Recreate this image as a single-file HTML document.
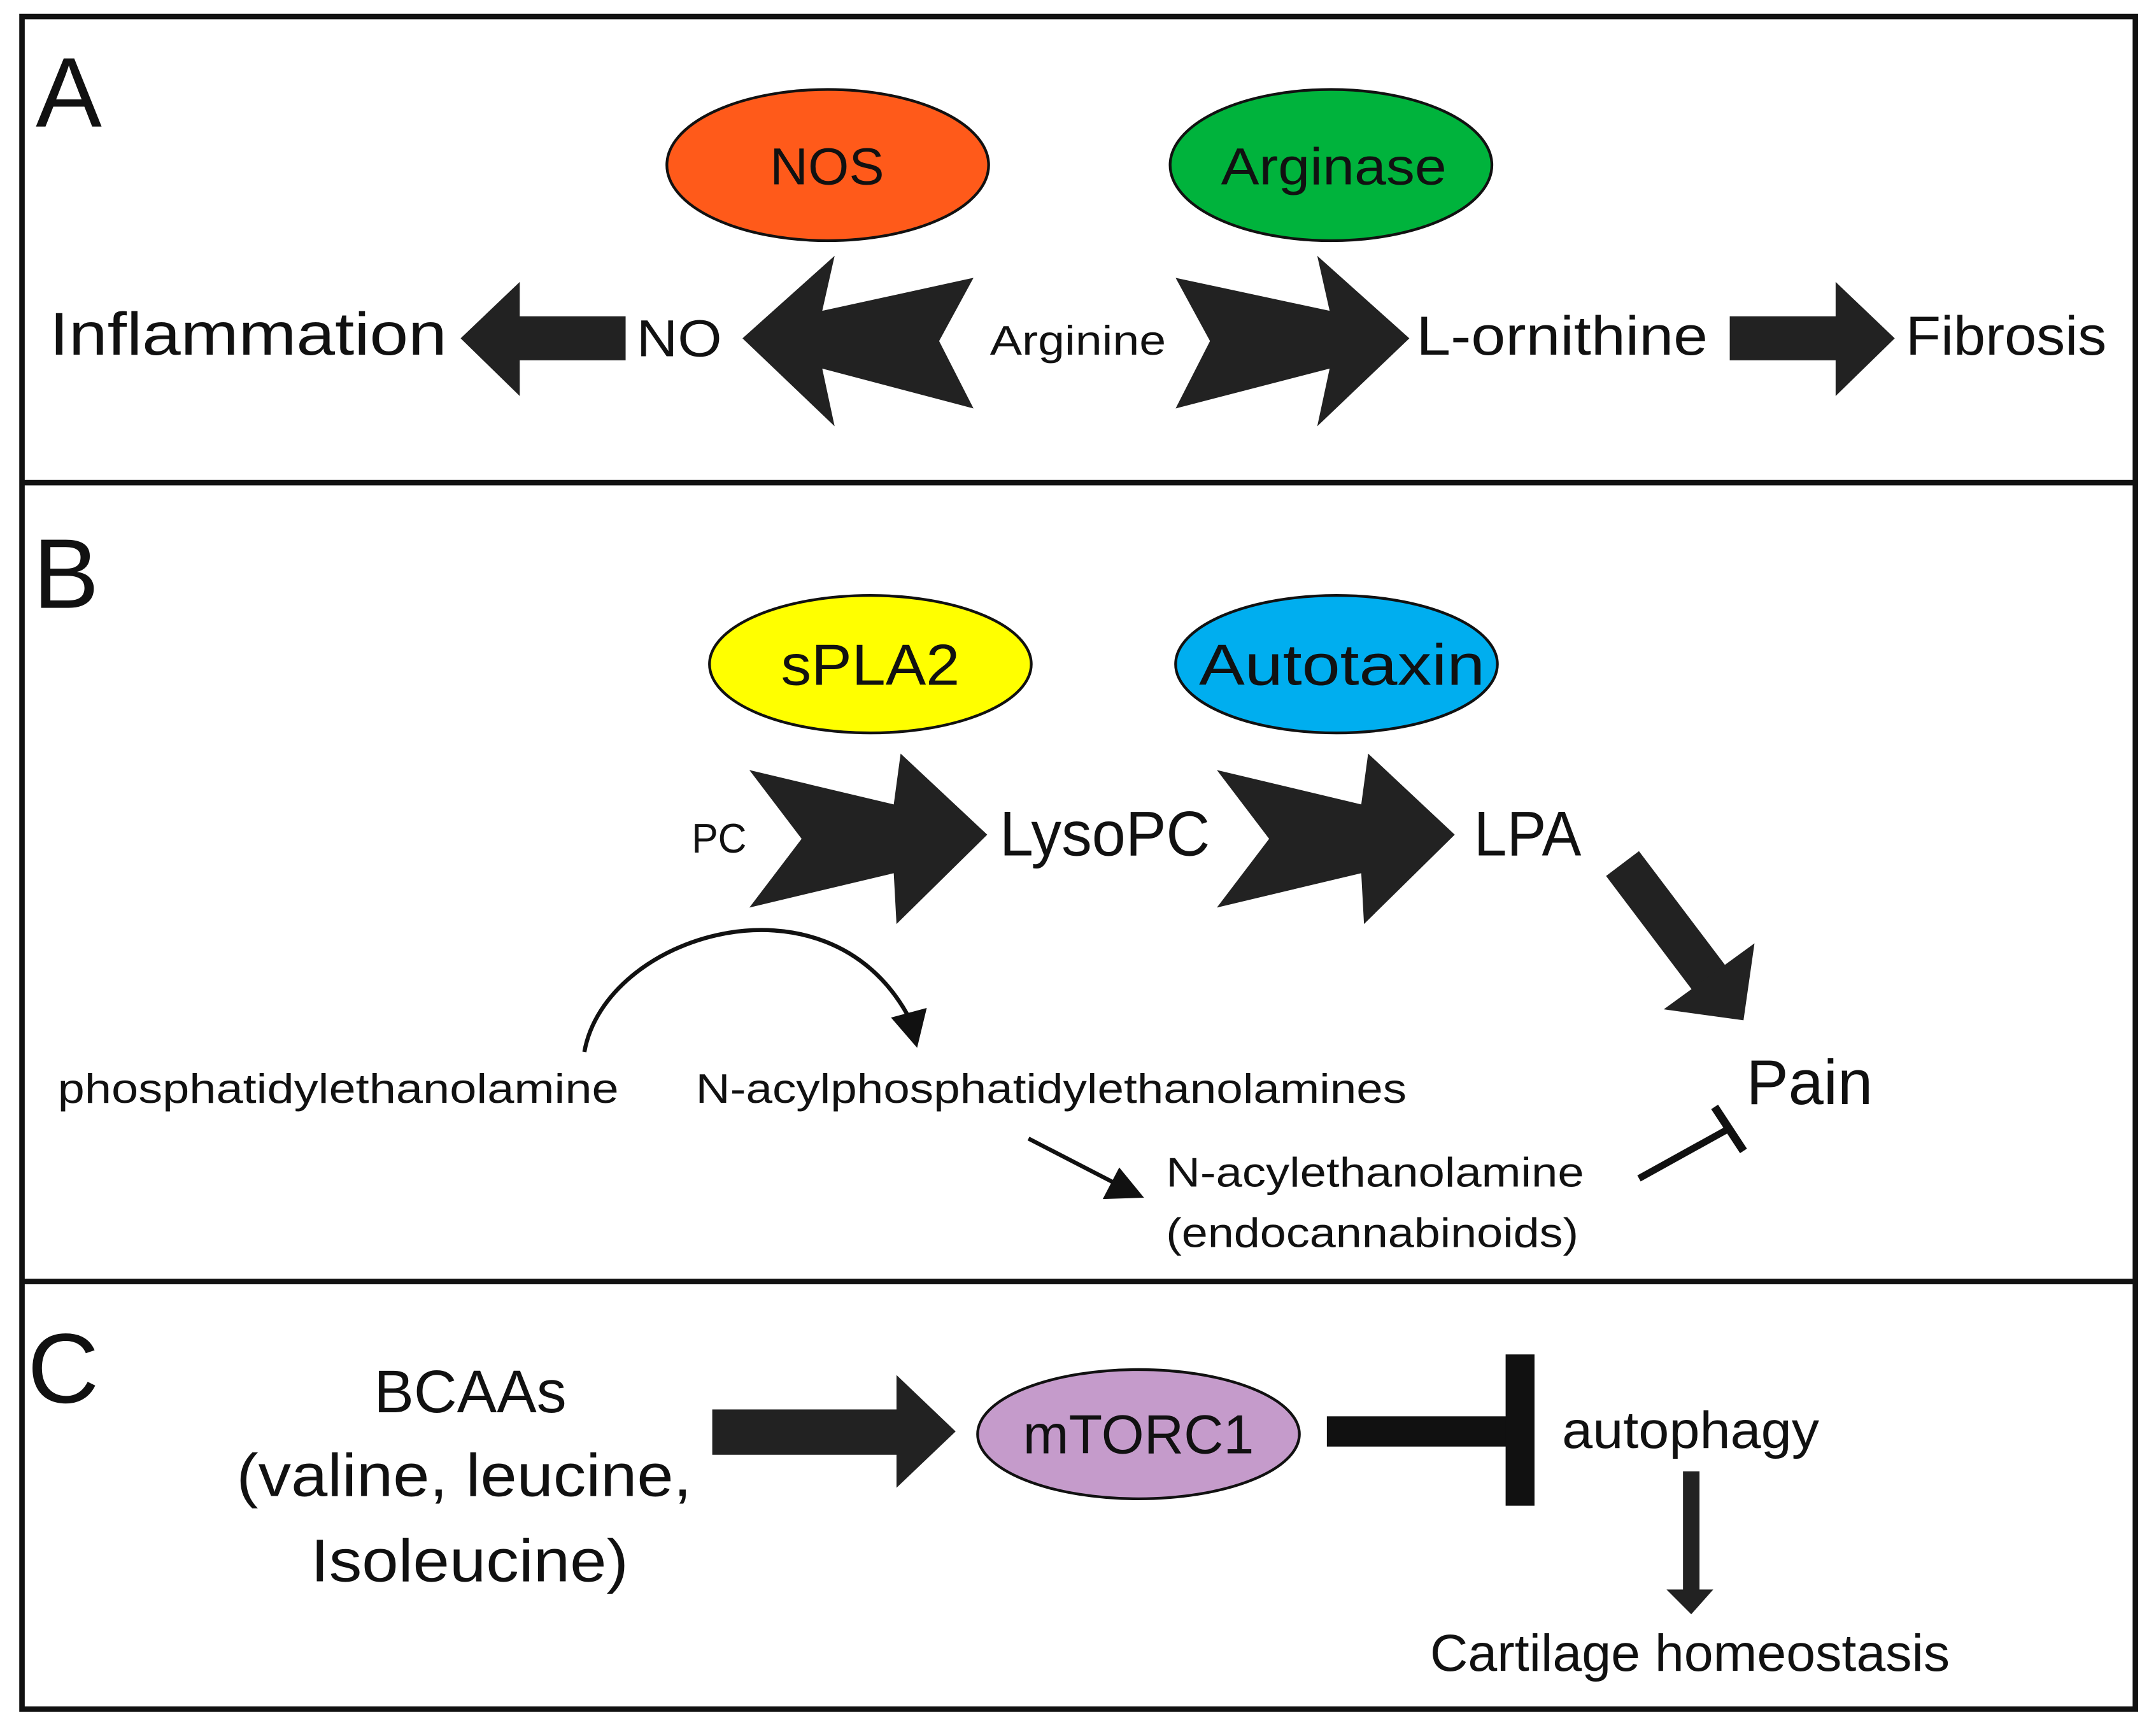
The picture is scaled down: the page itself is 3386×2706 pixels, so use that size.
<!DOCTYPE html>
<html><head><style>html,body{margin:0;padding:0;background:#fff}svg{display:block}text{font-family:"Liberation Sans",sans-serif;fill:#111}</style></head>
<body>
<svg width="3386" height="2706" viewBox="0 0 1568 1253" xmlns="http://www.w3.org/2000/svg">
<rect x="0" y="0" width="1568" height="1253" fill="#fff"/>
<g fill="none" stroke="#111" stroke-width="4">
<rect x="16" y="12" width="1537" height="1231"/>
<line x1="16" y1="351" x2="1553" y2="351"/>
<line x1="16" y1="932" x2="1553" y2="932"/>
</g>
<!-- Panel A -->
<text x="26" y="92" font-size="72">A</text>
<ellipse cx="602" cy="120" rx="117" ry="55" fill="#FF5A1A" stroke="#111" stroke-width="2"/>
<text x="560" y="134" font-size="38" textLength="83" lengthAdjust="spacingAndGlyphs">NOS</text>
<ellipse cx="968" cy="120" rx="117" ry="55" fill="#00B33C" stroke="#111" stroke-width="2"/>
<text x="888" y="134" font-size="38" textLength="164" lengthAdjust="spacingAndGlyphs">Arginase</text>
<text x="36" y="258" font-size="44" textLength="289" lengthAdjust="spacingAndGlyphs">Inflammation</text>
<polygon fill="#222" points="455,230 378,230 378,205 335,246 378,288 378,262 455,262"/>
<text x="463" y="259" font-size="38" textLength="62" lengthAdjust="spacingAndGlyphs">NO</text>
<polygon fill="#222" points="540,246 607,186 598,226 708,202 683,248 708,297 598,268 607,310"/>
<polygon fill="#222" points="1025,246 958,186 967,226 855,202 880,248 855,297 967,268 958,310"/>
<text x="720" y="258" font-size="30" textLength="128" lengthAdjust="spacingAndGlyphs">Arginine</text>
<text x="1030" y="258" font-size="40" textLength="212" lengthAdjust="spacingAndGlyphs">L-ornithine</text>
<polygon fill="#222" points="1258,230 1335,230 1335,205 1378,246 1335,288 1335,262 1258,262"/>
<text x="1386" y="258" font-size="40" textLength="146" lengthAdjust="spacingAndGlyphs">Fibrosis</text>
<!-- Panel B -->
<text x="24" y="442" font-size="72">B</text>
<ellipse cx="633" cy="483" rx="117" ry="50" fill="#FFFF00" stroke="#111" stroke-width="2"/>
<text x="568" y="498" font-size="42" textLength="130" lengthAdjust="spacingAndGlyphs">sPLA2</text>
<ellipse cx="972" cy="483" rx="117" ry="50" fill="#00AEEF" stroke="#111" stroke-width="2"/>
<text x="872" y="498" font-size="42" textLength="208" lengthAdjust="spacingAndGlyphs">Autotaxin</text>
<text x="503" y="620" font-size="30" textLength="40" lengthAdjust="spacingAndGlyphs">PC</text>
<polygon fill="#222" points="545,560 650,585 655,548 718,607 652,672 650,635 545,660 583,610"/>
<text x="727" y="622" font-size="46" textLength="153" lengthAdjust="spacingAndGlyphs">LysoPC</text>
<polygon fill="#222" points="885,560 990,585 995,548 1058,607 992,672 990,635 885,660 923,610"/>
<text x="1072" y="622" font-size="46" textLength="78" lengthAdjust="spacingAndGlyphs">LPA</text>
<line x1="1180" y1="628" x2="1245" y2="714" stroke="#222" stroke-width="30"/>
<polygon fill="#222" points="1268,742 1210,734 1276,686"/>
<text x="1270" y="803" font-size="46" textLength="92" lengthAdjust="spacingAndGlyphs">Pain</text>
<line x1="1192" y1="857" x2="1257" y2="821" stroke="#111" stroke-width="5"/>
<line x1="1247" y1="805" x2="1268" y2="837" stroke="#111" stroke-width="6"/>
<path d="M425,765 C440,680 600,630 660,738" fill="none" stroke="#111" stroke-width="3"/>
<polygon fill="#111" points="648,740 674,733 667,762"/>
<text x="42" y="802" font-size="30" textLength="408" lengthAdjust="spacingAndGlyphs">phosphatidylethanolamine</text>
<text x="506" y="802" font-size="30" textLength="517" lengthAdjust="spacingAndGlyphs">N-acylphosphatidylethanolamines</text>
<line x1="748" y1="828" x2="810" y2="860" stroke="#111" stroke-width="3"/>
<polygon fill="#111" points="832,871 802,872 814,849"/>
<text x="848" y="863" font-size="30" textLength="304" lengthAdjust="spacingAndGlyphs">N-acylethanolamine</text>
<text x="848" y="907" font-size="30" textLength="300" lengthAdjust="spacingAndGlyphs">(endocannabinoids)</text>
<!-- Panel C -->
<text x="20" y="1020" font-size="72">C</text>
<text x="272" y="1027" font-size="44" textLength="140" lengthAdjust="spacingAndGlyphs">BCAAs</text>
<text x="172" y="1088" font-size="44" textLength="331" lengthAdjust="spacingAndGlyphs">(valine, leucine,</text>
<text x="226" y="1150" font-size="44" textLength="231" lengthAdjust="spacingAndGlyphs">Isoleucine)</text>
<polygon fill="#222" points="518,1025 652,1025 652,1000 695,1041 652,1082 652,1058 518,1058"/>
<ellipse cx="828" cy="1043" rx="117" ry="47" fill="#C59BCB" stroke="#111" stroke-width="2"/>
<text x="744" y="1057" font-size="40" textLength="168" lengthAdjust="spacingAndGlyphs">mTORC1</text>
<rect x="965" y="1030" width="132" height="22" fill="#111"/>
<rect x="1095" y="985" width="21" height="110" fill="#111"/>
<text x="1136" y="1053" font-size="38" textLength="187" lengthAdjust="spacingAndGlyphs">autophagy</text>
<rect x="1224" y="1070" width="12" height="87" fill="#222"/>
<polygon fill="#222" points="1212,1156 1246,1156 1230,1174"/>
<text x="1040" y="1215" font-size="38" textLength="378" lengthAdjust="spacingAndGlyphs">Cartilage homeostasis</text>
</svg>
</body></html>
